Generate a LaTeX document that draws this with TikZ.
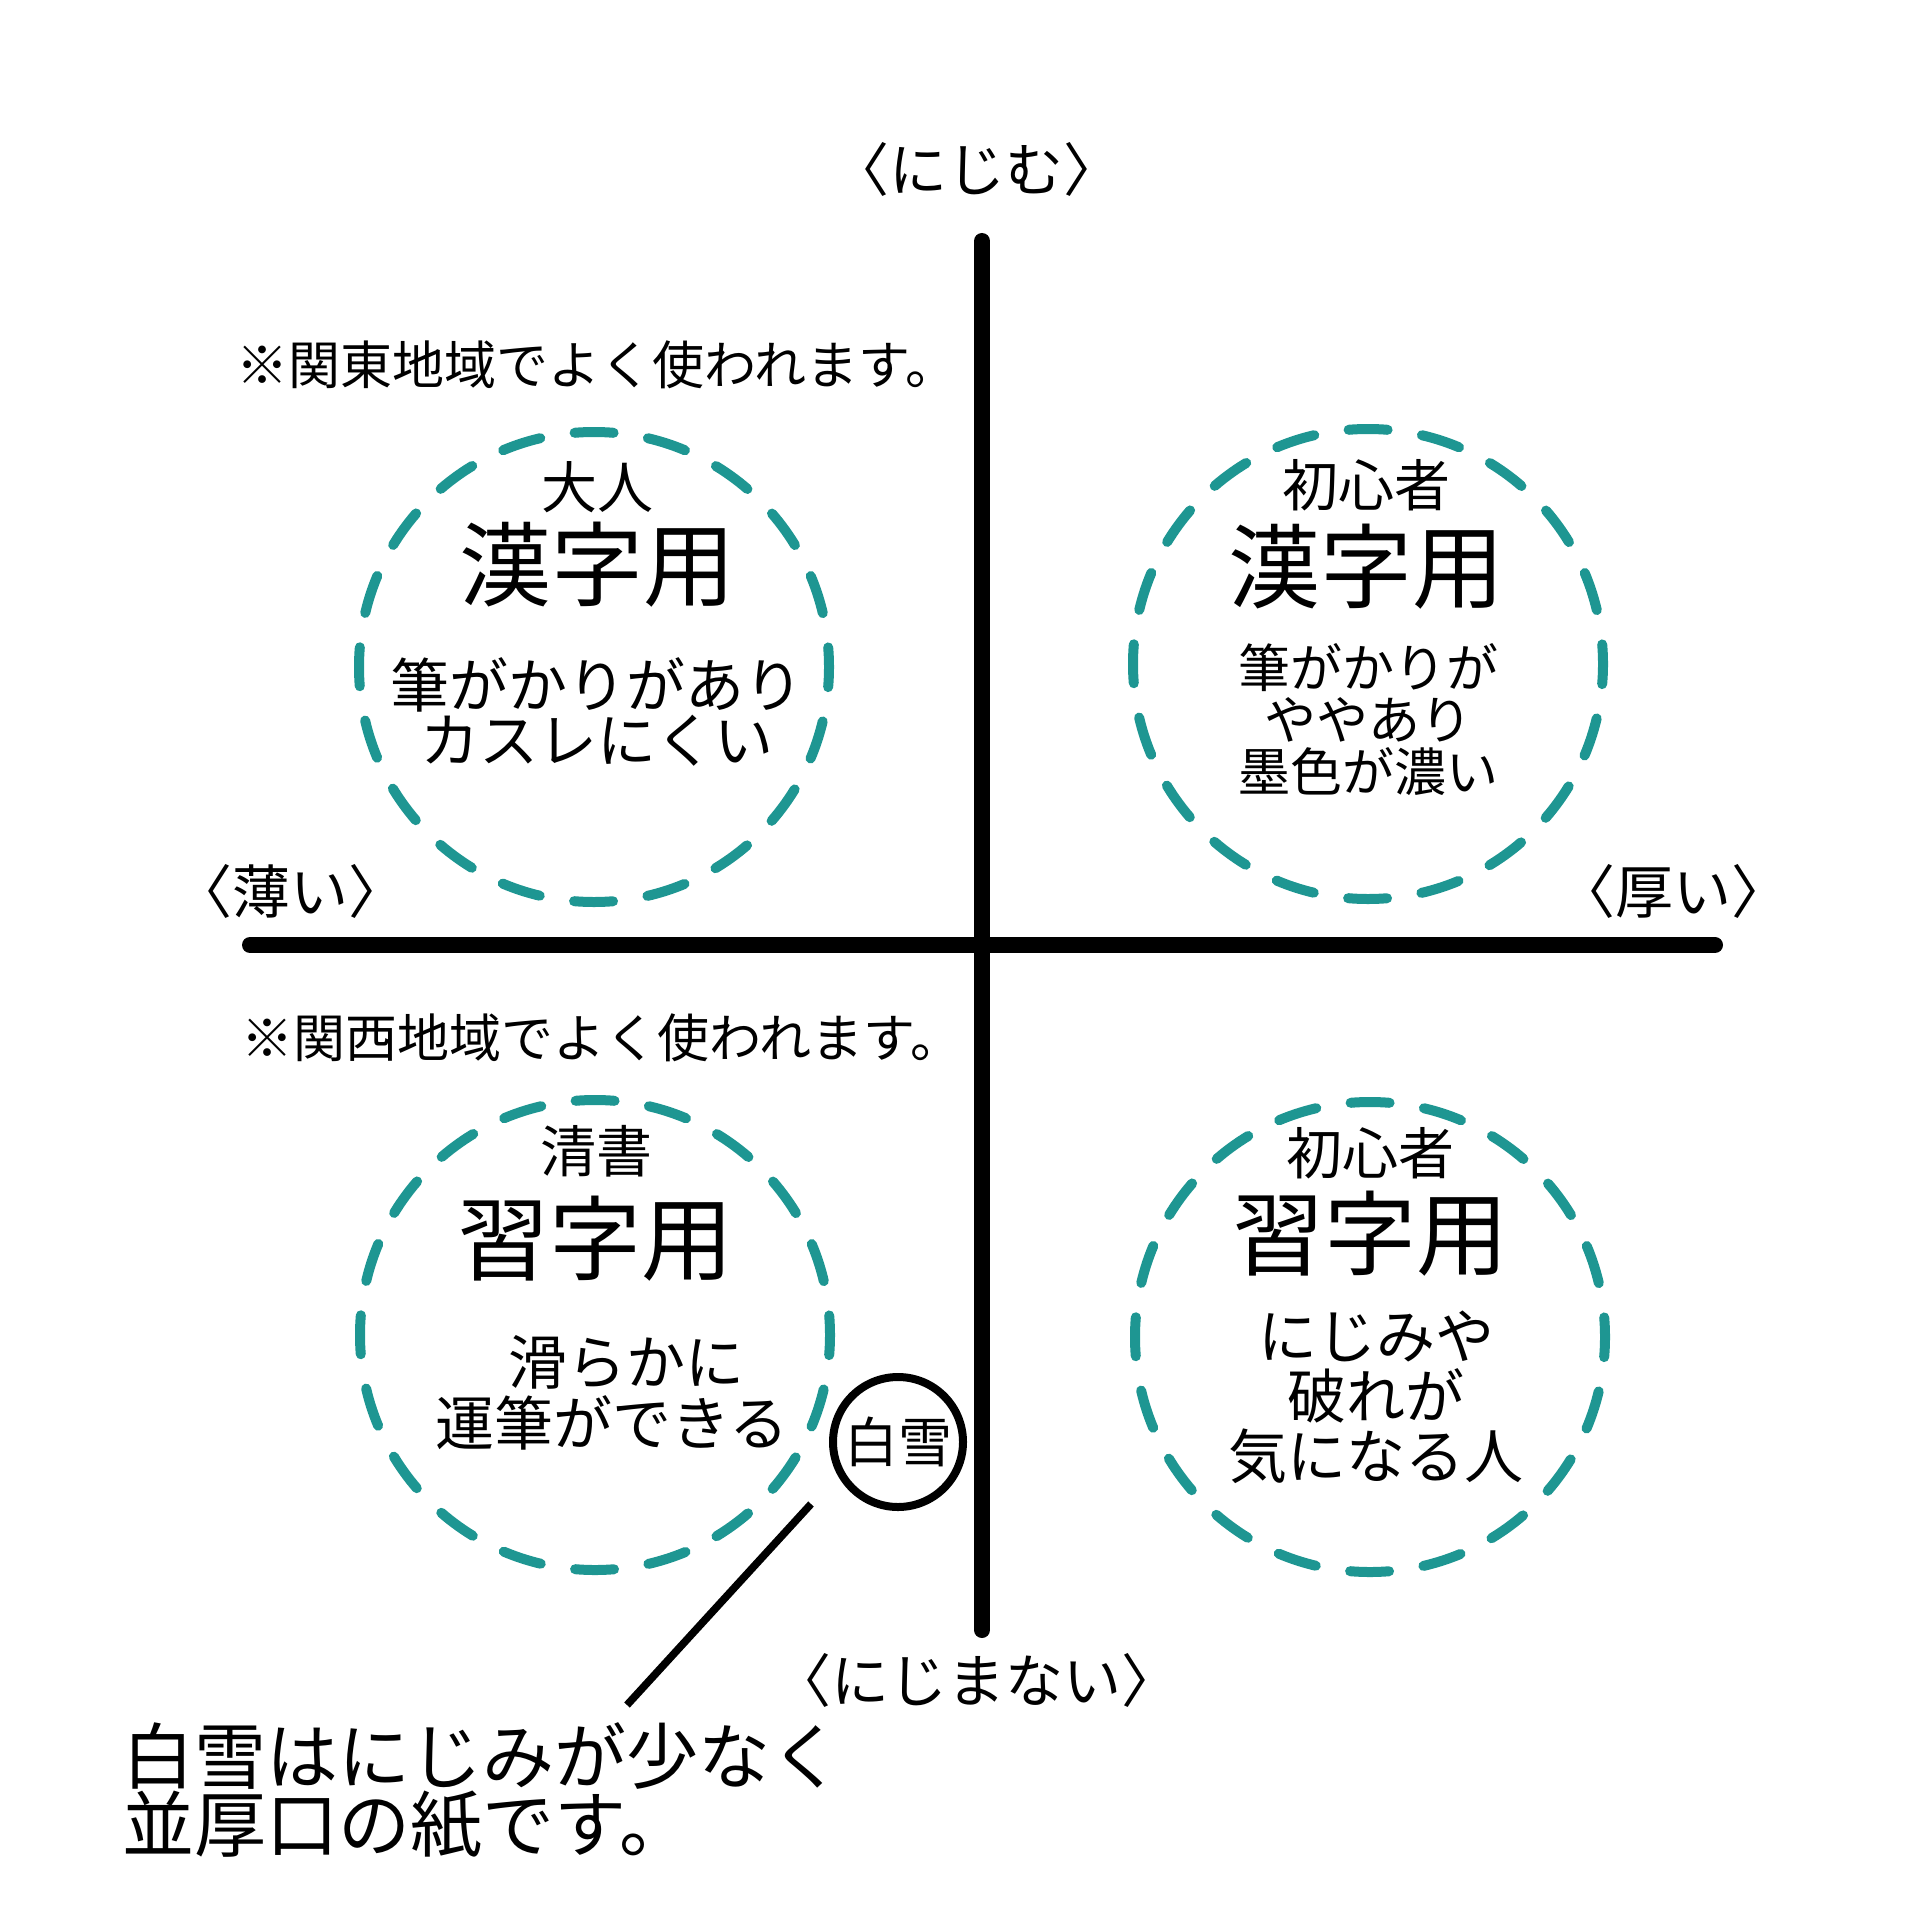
\documentclass[tikz,border=0pt]{standalone}
\usepackage{fontspec}
\setmainfont{Noto Sans CJK JP}
\usepackage{tikz}
\usetikzlibrary{positioning}
\definecolor{ringteal}{HTML}{1E9692}
\definecolor{inkblack}{HTML}{000000}

\begin{document}
\begin{tikzpicture}[x=0.5pt, y=-0.5pt,
    axisline/.style={draw=inkblack, line width=8pt, line cap=round},
    ring/.style={circle, draw=ringteal, line width=5pt, line cap=round,
      dash pattern=on 19.5pt off 17.4pt, dash phase=9.7pt, minimum size=235pt, inner sep=0pt},
    axislabel/.style={font=\fontsize{29}{32}\selectfont},
    remark/.style={font=\fontsize{26}{30}\selectfont},
    usertag/.style={font=\fontsize{28}{32}\selectfont},
    paperuse/.style={font=\fontsize{46}{50}\selectfont},
    feature/.style={align=center, inner sep=0pt}
  ]
    \useasboundingbox (0, 0) rectangle (1920, 1920);

    % Axes
    \coordinate (axtop) at (982, 241);
    \coordinate (axbottom) at (982, 1630);
    \coordinate (axleft) at (250, 945);
    \coordinate (axright) at (1715, 945);
    \draw[axisline] (axleft) -- (axright);
    \draw[axisline] (axtop) -- (axbottom);
    \node[axislabel] (bleed) at (976, 169) {〈にじむ〉};
    \node[axislabel] (nobleed) at (976, 1680) {〈にじまない〉};
    \node[axislabel] (thin) at (290, 891) {〈薄い〉};
    \node[axislabel] (thick) at (1673, 891) {〈厚い〉};

    % Kanto note, Kansai note
    \node[remark] (kanto) at (597, 365) {※関東地域でよく使われます。};
    \node[remark] (kansai) at (602, 1038) {※関西地域でよく使われます。};

    % Top left
    \node[ring] (kanjiA) at (594, 667) {};
    \node[usertag] (kanjiAuser) at (597, 487) {大人};
    \node[paperuse] (kanjiAuse) at (597, 565) {漢字用};
    \node[feature, font=\fontsize{29.5}{27.5}\selectfont] (kanjiAtext) at (597, 712)
      {筆がかりがあり\\カスレにくい};

    % Top right
    \node[ring] (kanjiB) at (1368, 664) {};
    \node[usertag] (kanjiBuser) at (1366, 485) {初心者};
    \node[paperuse] (kanjiBuse) at (1366, 567) {漢字用};
    \node[feature, font=\fontsize{26}{26}\selectfont] (kanjiBtext) at (1368, 720)
      {筆がかりが\\ややあり\\墨色が濃い};

    % Bottom left
    \node[ring] (shujiA) at (595, 1335) {};
    \node[usertag] (shujiAuser) at (596, 1151) {清書};
    \node[paperuse] (shujiAuse) at (595, 1239) {習字用};
    \node[feature, font=\fontsize{29.5}{30.5}\selectfont] (shujiAtext) at (612, 1393)
      {\hspace{0.5em}滑らかに\\運筆ができる};

    % Bottom right
    \node[ring] (shujiB) at (1370, 1337) {};
    \node[usertag] (shujiBuser) at (1370, 1153) {初心者};
    \node[paperuse] (shujiBuse) at (1370, 1234) {習字用};
    \node[feature, font=\fontsize{29.5}{30}\selectfont] (shujiBtext) at (1376, 1397)
      {にじみや\\破れが\\気になる人};

    % Shirayuki
    \node[circle, draw=inkblack, line width=4pt, minimum size=65pt, inner sep=0pt,
      font=\fontsize{27}{30}\selectfont] (shirayuki) at (898, 1442) {白雪};
    \coordinate (leadtop) at (811, 1504);
    \coordinate (leadend) at (627, 1705);
    \draw[inkblack, line width=3.8pt] (leadtop) -- (leadend);
    \node[anchor=west, align=left, inner sep=0pt, font=\fontsize{36}{34}\selectfont]
      (summary) at (122, 1791) {白雪はにじみが少なく\\並厚口の紙です。};
\end{tikzpicture}
\end{document}
